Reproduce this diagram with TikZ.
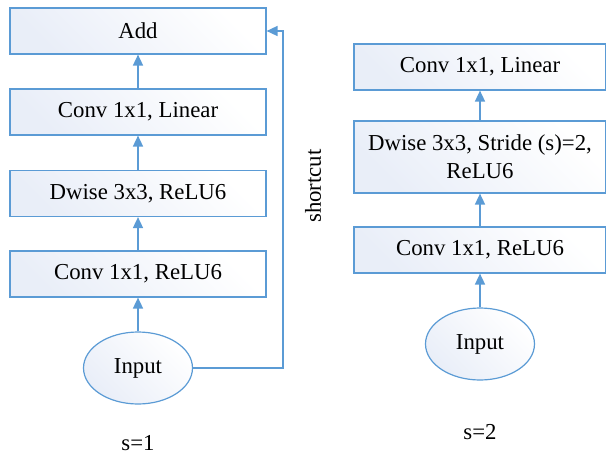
\documentclass[tikz,border=0pt]{standalone}
\usepackage{fontspec}
\setmainfont{Liberation Serif}
\usetikzlibrary{arrows.meta,shapes.geometric}
\definecolor{lineblue}{RGB}{91,155,213}
\definecolor{fillblue}{RGB}{233,238,248}

\begin{document}
\begin{tikzpicture}[x=0.5pt,y=-0.5pt,
    block/.style={draw=lineblue, line width=0.6pt, left color=fillblue, right color=white, shading angle=135,
        minimum height=23pt, inner sep=0pt, align=center},
    inp/.style={ellipse, draw=lineblue, line width=0.6pt, left color=fillblue, right color=white, shading angle=135,
        minimum width=54.5pt, minimum height=36pt, inner sep=0pt},
    arr/.style={draw=lineblue, line width=0.8pt, -{Triangle[length=5.5pt,width=5pt]}},
    font=\fontsize{11.4}{14}\selectfont]
            \useasboundingbox (0,0) rectangle (606,455);
            % s=1 block
            \node[block, minimum width=128pt] (add) at (138,31) {Add};
            \node[block, minimum width=128pt] (lin1) at (138,112) {Conv 1x1, Linear};
            \node[block, minimum width=128pt] (dw1) at (138,193.5) {Dwise 3x3, ReLU6};
            \node[block, minimum width=128pt] (exp1) at (138,274) {Conv 1x1, ReLU6};
            \node[inp] (in1) at (138,368) {Input};
            \node (s1) at (138,443) {s=1};
            \draw[arr] (in1) -- (exp1);
            \draw[arr] (exp1) -- (dw1);
            \draw[arr] (dw1) -- (lin1);
            \draw[arr] (lin1) -- (add);
            \coordinate (sc) at (283,368);
            \draw[arr] (in1.east) -- (sc) |- (add.east);
            \node[rotate=90] (sclab) at (313,186) {shortcut};
            % s=2 block
            \node[block, minimum width=126pt] (lin2) at (480,67) {Conv 1x1, Linear};
            \node[block, minimum width=126pt, minimum height=36pt] (dw2) at (480,157) {Dwise 3x3, Stride (s)=2,\\ReLU6};
            \node[block, minimum width=126pt] (exp2) at (480,250) {Conv 1x1, ReLU6};
            \node[inp] (in2) at (480,344) {Input};
            \node (s2) at (480,432) {s=2};
            \draw[arr] (in2) -- (exp2);
            \draw[arr] (exp2) -- (dw2);
            \draw[arr] (dw2) -- (lin2);
\end{tikzpicture}
\end{document}
